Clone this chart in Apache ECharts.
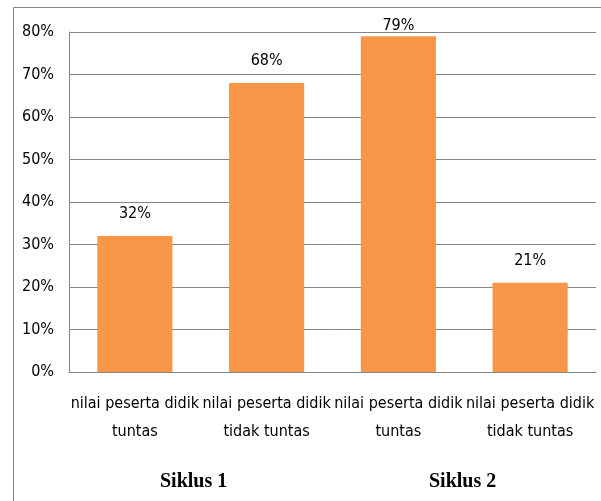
<!DOCTYPE html>
<html>
<head>
<meta charset="utf-8">
<script src="https://cdn.jsdelivr.net/npm/echarts@6/dist/echarts.min.js"></script>
<style>
  html, body { margin: 0; padding: 0; background: #fff; }
</style>
</head>
<body>
<div id="myChart" style="width: 601px; height: 501px;"></div>
<script>
var categories = [
  "nilai peserta didik\ntuntas",
  "nilai peserta didik\ntidak tuntas",
  "nilai peserta didik\ntuntas",
  "nilai peserta didik\ntidak tuntas"
];
var values = [32, 68, 79, 21];
var groupLabels = ["Siklus 1", "Siklus 2"];

var narrow = "'Liberation Sans Narrow', 'DejaVu Sans Condensed', sans-serif";
var yMax = 80;

// label near the top gets pushed down so it stays inside the plot, like Excel does
var barData = values.map(function (v) {
  return v > yMax - 4 ? { value: v, label: { distance: 2 } } : v;
});

var myChart = echarts.init(document.getElementById("myChart"));
myChart.setOption({
  animation: false,
  color: ["#f79646"],
  grid: {
    left: 69,
    right: 5,
    top: 32,
    bottom: 129
  },
  xAxis: {
    type: "category",
    data: categories,
    axisLine: { lineStyle: { color: "#868686" } },
    axisTick: { show: false },
    axisLabel: {
      color: "#000",
      fontFamily: narrow,
      fontSize: 16,
      lineHeight: 28,
      margin: 18,
      interval: 0
    }
  },
  yAxis: {
    type: "value",
    min: 0,
    max: yMax,
    interval: 10,
    axisLine: { show: true, lineStyle: { color: "#868686" } },
    axisTick: { show: false },
    axisLabel: {
      formatter: "{value}%",
      color: "#000",
      fontFamily: narrow,
      fontSize: 16,
      margin: 15
    },
    splitLine: { lineStyle: { color: "#868686" } }
  },
  series: [
    {
      type: "bar",
      data: barData,
      barCategoryGap: "43%",
      label: {
        show: true,
        position: "top",
        formatter: "{c}%",
        color: "#000",
        fontFamily: narrow,
        fontSize: 16,
        distance: 14
      }
    }
  ],
  graphic: [
    {
      type: "rect",
      shape: { x: 13.5, y: 7.5, width: 620, height: 520 },
      style: { fill: "none", stroke: "#868686", lineWidth: 1 },
      silent: true
    },
    {
      type: "text",
      left: 160,
      top: 472,
      style: {
        text: groupLabels[0],
        font: "bold 20px 'Liberation Serif', 'DejaVu Serif', serif",
        fill: "#000"
      }
    },
    {
      type: "text",
      left: 429,
      top: 472,
      style: {
        text: groupLabels[1],
        font: "bold 20px 'Liberation Serif', 'DejaVu Serif', serif",
        fill: "#000"
      }
    }
  ]
});
</script>
</body>
</html>
